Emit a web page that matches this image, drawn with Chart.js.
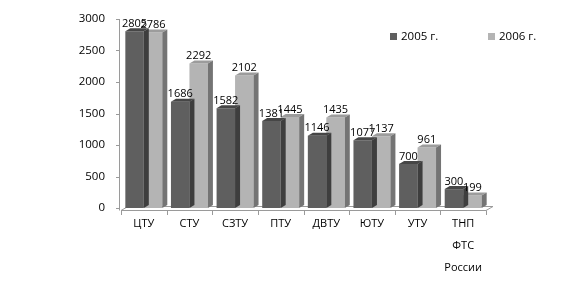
<!DOCTYPE html>
<html>
<head>
<meta charset="utf-8">
<script src="https://cdn.jsdelivr.net/npm/chart.js@4"></script>
<style>
  html, body { margin: 0; padding: 0; background: #fff; }
  #wrap { width: 584px; height: 286px; }
</style>
</head>
<body>
<div id="wrap"><canvas id="chart" width="584" height="286"></canvas></div>
<script>
const categories = ['ЦТУ', 'СТУ', 'СЗТУ', 'ПТУ', 'ДВТУ', 'ЮТУ', 'УТУ', ['ТНП', 'ФТС', 'России']];
const values2005 = [2805, 1686, 1582, 1381, 1146, 1077, 700, 300];
const values2006 = [2786, 2292, 2102, 1445, 1435, 1137, 961, 199];
const yTicks = [0, 500, 1000, 1500, 2000, 2500, 3000];

const FONT = 'Open Sans';
const DX = 5, DY = -3;

// тени для "объёмных" столбиков
const shades = [
    { face: '#5f5f5f', top: '#464646', side: '#3e3e3e' },
    { face: '#b4b4b4', top: '#9c9c9c', side: '#747474' }
];

const bars3d = {
    id: 'bars3d',
    beforeDatasetsDraw(chart) {
        const ctx = chart.ctx;
        const a = chart.chartArea;
        const y0 = chart.scales.y.getPixelForValue(0);
        ctx.save();
        // пол
        ctx.fillStyle = '#fff';
        ctx.strokeStyle = '#9a9a9a';
        ctx.lineWidth = 1;
        ctx.beginPath();
        ctx.moveTo(a.left, y0 + 2.5);
        ctx.lineTo(a.right, y0 + 2.5);
        ctx.lineTo(a.right + DX + 2, y0 + 2.5 + DY - 1);
        ctx.lineTo(a.left + DX + 2, y0 + 2.5 + DY - 1);
        ctx.closePath();
        ctx.fill();
        ctx.stroke();
        // левая ось
        ctx.beginPath();
        ctx.moveTo(a.left - 1.5, a.top);
        ctx.lineTo(a.left - 1.5, y0 + 2.5);
        ctx.stroke();
        yTicks.forEach(v => {
            const py = Math.round(chart.scales.y.getPixelForValue(v)) + 0.5;
            ctx.beginPath();
            ctx.moveTo(a.left - 5, py);
            ctx.lineTo(a.left - 1.5, py);
            ctx.stroke();
        });
        // деления по категориям
        const step = (a.right - a.left) / categories.length;
        for (let i = 0; i <= categories.length; i++) {
            const px = Math.round(a.left + i * step) + 0.5;
            ctx.beginPath();
            ctx.moveTo(px, y0 + 2.5);
            ctx.lineTo(px, y0 + 7);
            ctx.stroke();
        }
        ctx.restore();
    },
    afterDatasetDraw(chart, args) {
        const ctx = chart.ctx;
        const s = shades[args.index];
        ctx.save();
        args.meta.data.forEach(bar => {
            const p = bar.getProps(['x', 'y', 'base', 'width'], true);
            const l = p.x - p.width / 2, r = p.x + p.width / 2;
            ctx.fillStyle = s.top;
            ctx.beginPath();
            ctx.moveTo(l, p.y);
            ctx.lineTo(l + DX, p.y + DY);
            ctx.lineTo(r + DX, p.y + DY);
            ctx.lineTo(r, p.y);
            ctx.closePath();
            ctx.fill();
            ctx.fillStyle = s.side;
            ctx.beginPath();
            ctx.moveTo(r, p.y);
            ctx.lineTo(r + DX, p.y + DY);
            ctx.lineTo(r + DX, p.base + DY);
            ctx.lineTo(r, p.base);
            ctx.closePath();
            ctx.fill();
        });
        ctx.restore();
    },
    afterDatasetsDraw(chart) {
        const ctx = chart.ctx;
        ctx.save();
        ctx.font = '11px "' + FONT + '"';
        ctx.fillStyle = '#000';
        ctx.textAlign = 'center';
        ctx.textBaseline = 'bottom';
        chart.data.datasets.forEach((ds, di) => {
            chart.getDatasetMeta(di).data.forEach((bar, i) => {
                ctx.fillText(String(ds.data[i]), bar.x, bar.y - 2);
            });
        });
        // легенда
        ctx.font = '11.5px "' + FONT + '"';
        ctx.textAlign = 'left';
        ctx.textBaseline = 'middle';
        const lx = [390, 488];
        chart.data.datasets.forEach((ds, di) => {
            ctx.fillStyle = ds.backgroundColor;
            ctx.fillRect(lx[di], 33, 7, 7);
            ctx.fillStyle = '#000';
            ctx.fillText(ds.label, lx[di] + 11, 36.5);
        });
        ctx.restore();
    }
};

new Chart(document.getElementById('chart').getContext('2d'), {
    type: 'bar',
    data: {
        labels: categories,
        datasets: [
            { label: '2005 г.', data: values2005, backgroundColor: shades[0].face, borderWidth: 0 },
            { label: '2006 г.', data: values2006, backgroundColor: shades[1].face, borderWidth: 0 }
        ]
    },
    options: {
        responsive: false,
        animation: false,
        layout: { padding: { top: 19, right: 98, left: 0, bottom: 0 } },
        categoryPercentage: 0.81,
        barPercentage: 1.0,
        plugins: {
            legend: { display: false },
            tooltip: { enabled: false }
        },
        scales: {
            x: {
                grid: { display: false },
                border: { display: false },
                afterFit(scale) { scale.height = 78; },
                ticks: {
                    color: '#000',
                    padding: -3,
                    maxRotation: 0,
                    font: { family: FONT, size: 11, lineHeight: 2.0 }
                }
            },
            y: {
                min: 0,
                max: 3000,
                afterFit(scale) { scale.width = 121; },
                afterBuildTicks(scale) { scale.ticks = yTicks.map(v => ({ value: v })); },
                grid: { display: false },
                border: { display: false },
                ticks: {
                    color: '#000',
                    padding: 8,
                    font: { family: FONT, size: 11.5 },
                    callback: v => String(v)
                }
            }
        }
    },
    plugins: [bars3d]
});
</script>
</body>
</html>
